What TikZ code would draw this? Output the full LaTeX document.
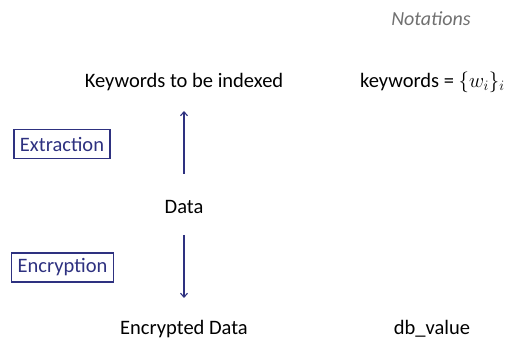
\documentclass[tikz,border=0pt]{standalone}
\usepackage{fontspec}
\setmainfont{Carlito}
\definecolor{navy}{HTML}{2E3180}
\definecolor{notegray}{HTML}{707070}
\usetikzlibrary{arrows.meta}
\tikzset{
  txt/.style={font=\fontsize{20.5}{23}\selectfont, text=black, inner sep=0pt},
  boxed/.style={draw=navy, line width=1.2pt, text=navy, font=\fontsize{20.5}{23}\selectfont, inner xsep=6pt, inner ysep=3pt, minimum height=29pt},
  flow/.style={draw=navy, line width=1.1pt, -{Straight Barb[length=4pt,width=7pt]}}
}
\begin{document}
\begin{tikzpicture}[x=1pt,y=-1pt]
\useasboundingbox (0,0) rectangle (506,344);
\node[font=\fontsize{20}{22}\selectfont\itshape, text=notegray, inner sep=0pt] (notes) at (431,19) {Notations};
\node[txt] (kw) at (184,82) {Keywords to be indexed};
\node[txt, anchor=west] (kwnote) at (360,82) {keywords = {\fontsize{21.5}{24}\selectfont$\{w_i\}_i$}};
\node[boxed] (extr) at (62,144) {Extraction};
\node[txt] (data) at (184,207) {Data};
\node[boxed] (encr) at (62.5,267.5) {Encryption};
\node[txt] (enc) at (184,329) {Encrypted Data};
\node[txt] (dbv) at (432,329) {db\_value};
\coordinate (upS) at (184,174);
\coordinate (upE) at (184,111);
\coordinate (dnS) at (184,235);
\coordinate (dnE) at (184,298);
\draw[flow] (upS) -- (upE);
\draw[flow] (dnS) -- (dnE);
\end{tikzpicture}
\end{document}
